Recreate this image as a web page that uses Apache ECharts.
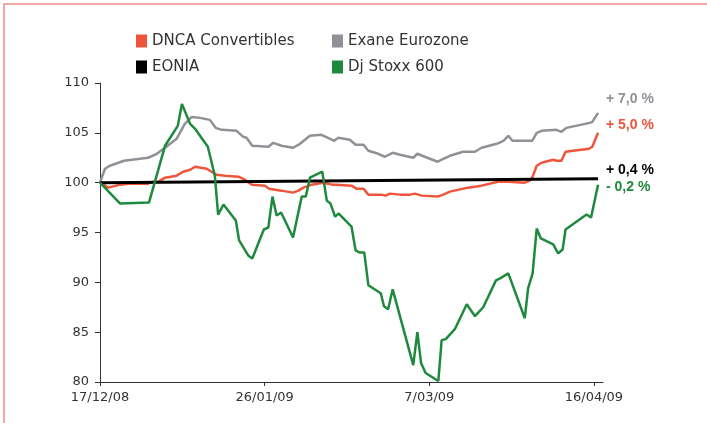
<!DOCTYPE html>
<html>
<head>
<meta charset="utf-8">
<script src="https://cdn.jsdelivr.net/npm/echarts@6/dist/echarts.min.js"></script>
<style>
html,body{margin:0;padding:0;background:#fff}
#chart{width:707px;height:423px}
</style>
</head>
<body>
<div id="chart"></div>
<script>
// days counted from 17/12/08
var tickDays = [0, 40, 80, 120];
var dateLabels = ['17/12/08', '26/01/09', '7/03/09', '16/04/09'];

var dncaDays = [0, 2, 4.9, 6.9, 11.7, 13, 14.2, 15.8, 18.6, 20.2, 21.9, 23.1, 25.9, 26.7, 28.3, 30.4, 33.6, 35.2, 36.9, 40.1, 41, 44.1, 46.9, 48.2, 49.4, 51.4, 54.2, 55.4, 56.3, 57.5, 61.1, 62.3, 64, 65.2, 68.4, 69.4, 70.4, 72.9, 75.3, 76.5, 78.1, 82, 83.4, 85, 89.4, 92.7, 96.7, 99.2, 103.2, 104.4, 105, 106.1, 107.3, 110.1, 110.9, 112.1, 113.1, 118.8, 119.6, 121];
var dncaVals = [100, 99.5, 99.8, 99.9, 99.9, 100.1, 100.1, 100.5, 100.7, 101.1, 101.3, 101.6, 101.4, 101.2, 100.8, 100.7, 100.6, 100.3, 99.8, 99.7, 99.4, 99.2, 99.0, 99.2, 99.5, 99.8, 100.0, 99.9, 99.8, 99.8, 99.7, 99.4, 99.4, 98.8, 98.8, 98.7, 98.9, 98.8, 98.8, 98.9, 98.7, 98.6, 98.8, 99.1, 99.5, 99.7, 100.1, 100.1, 100.0, 100.2, 100.5, 101.7, 102.0, 102.3, 102.2, 102.2, 103.1, 103.4, 103.6, 105.0];

var exaneDays = [0, 1.2, 2.4, 4.5, 5.8, 11.7, 13.8, 15.8, 18.6, 20.6, 22.3, 24.3, 26.7, 28.1, 29.6, 33.2, 34.8, 35.6, 37, 40.9, 42.1, 44.1, 46.9, 48.6, 51, 53.8, 55.4, 56.9, 57.9, 60.7, 62.1, 64, 65.2, 67.6, 69.2, 71.1, 72.9, 76.1, 77.1, 78.9, 82, 83, 85, 88.2, 91.1, 92.7, 96.4, 98, 99.2, 100.2, 103.2, 105, 106.1, 107.3, 110.9, 112.1, 113.3, 119, 119.6, 121];
var exaneVals = [100, 101.4, 101.7, 102.0, 102.2, 102.5, 102.9, 103.5, 104.4, 105.9, 106.6, 106.5, 106.3, 105.5, 105.3, 105.2, 104.6, 104.5, 103.7, 103.6, 104.0, 103.7, 103.5, 103.9, 104.7, 104.8, 104.5, 104.2, 104.5, 104.3, 103.8, 103.8, 103.2, 102.9, 102.6, 103.0, 102.8, 102.5, 102.9, 102.6, 102.1, 102.3, 102.7, 103.1, 103.1, 103.5, 103.9, 104.2, 104.7, 104.2, 104.2, 104.2, 105.0, 105.2, 105.3, 105.1, 105.5, 106.0, 106.1, 107.0];

var eoniaDays = [0, 121];
var eoniaVals = [100, 100.4];

var stoxxDays = [0, 4.9, 11.9, 15.8, 18.9, 19.9, 21.9, 23.1, 26.2, 27.9, 28.7, 30, 33, 33.8, 36, 37, 39.8, 40.9, 41.9, 42.9, 44, 46.9, 49, 50, 51, 54, 55.1, 56, 57.1, 58, 61.1, 62.1, 63, 64.2, 65.2, 68.2, 69, 70, 71.1, 76.1, 77.1, 78, 79.1, 82.2, 83, 84, 86.2, 89.1, 91.1, 93.1, 96.2, 97.2, 99.2, 103.2, 104, 105.1, 106.1, 107.1, 110.1, 111.3, 112.4, 113.1, 118.2, 119.3, 121];
var stoxxVals = [100, 97.9, 98.0, 103.7, 105.7, 107.9, 105.9, 105.4, 103.6, 100.7, 96.8, 97.8, 96.2, 94.2, 92.7, 92.4, 95.3, 95.5, 98.6, 96.7, 97.0, 94.5, 98.6, 98.6, 100.5, 101.1, 98.2, 97.9, 96.6, 96.9, 95.6, 93.2, 93.0, 93.0, 89.7, 88.9, 87.6, 87.3, 89.3, 81.7, 85.0, 81.9, 80.9, 80.1, 84.2, 84.3, 85.3, 87.8, 86.6, 87.5, 90.2, 90.4, 90.9, 86.4, 89.4, 90.9, 95.4, 94.4, 93.8, 92.9, 93.3, 95.3, 96.8, 96.5, 99.8];

var endLabels = ['+ 7,0 %', '+ 5,0 %', '+ 0,4 %', '- 0,2 %'];

var colRed = '#ef553c', colGrey = '#909196', colBlack = '#000000', colGreen = '#1f8a3d';

function pairs(d, v) {
	var out = [];
	for (var i = 0; i < d.length; i++) out.push([d[i], v[i]]);
	return out;
}

var chart = echarts.init(document.getElementById('chart'));

var lineSeries = function(name, color, w, days, vals) {
	return {
		name: name,
		type: 'line',
		symbol: 'none',
		color: color,
		lineStyle: {color: color, width: w},
		data: pairs(days, vals)
	};
};

var legendText = {fontFamily: 'DejaVu Sans', fontSize: 15, color: '#333', lineHeight: 16};
var endFont = 'bold 14px "Liberation Sans"';

var option = {
	animation: false,
	backgroundColor: '#fff',
	grid: {left: 100, top: 83, right: 104, bottom: 41},
	legend: [
		{
			orient: 'vertical', left: 131, top: 28, itemGap: 10,
			icon: 'rect', itemWidth: 11, itemHeight: 13,
			textStyle: legendText,
			data: ['DNCA Convertibles', 'EONIA']
		},
		{
			orient: 'vertical', left: 327, top: 28, itemGap: 10,
			icon: 'rect', itemWidth: 11, itemHeight: 13,
			textStyle: legendText,
			data: ['Exane Eurozone', 'Dj Stoxx 600']
		}
	],
	xAxis: {
		type: 'value', min: 0, max: 122.2, interval: 40,
		axisLine: {lineStyle: {color: '#333', width: 1}},
		axisTick: {customValues: tickDays, length: 4, lineStyle: {color: '#333'}},
		axisLabel: {
			customValues: tickDays, margin: 9,
			fontFamily: 'DejaVu Sans', fontSize: 13, color: '#333',
			formatter: function(v) { return dateLabels[tickDays.indexOf(v)]; }
		},
		splitLine: {show: false}
	},
	yAxis: {
		type: 'value', min: 80, max: 110, interval: 5,
		axisLine: {show: true, lineStyle: {color: '#333', width: 1}},
		axisTick: {show: true, length: 5, lineStyle: {color: '#333'}},
		axisLabel: {margin: 11, fontFamily: 'DejaVu Sans', fontSize: 13, color: '#333'},
		splitLine: {show: false}
	},
	graphic: [
		{type: 'rect', shape: {x: 4, y: 4, width: 740, height: 460}, style: {fill: 'none', stroke: '#ef8f86', lineWidth: 1.5}, silent: true},
		{type: 'text', left: 606, top: 92, style: {text: endLabels[0], fill: colGrey, font: endFont}},
		{type: 'text', left: 606, top: 118, style: {text: endLabels[1], fill: colRed, font: endFont}},
		{type: 'text', left: 606, top: 163, style: {text: endLabels[2], fill: colBlack, font: endFont}},
		{type: 'text', left: 606, top: 180, style: {text: endLabels[3], fill: colGreen, font: endFont}}
	],
	series: [
		lineSeries('Exane Eurozone', colGrey, 2.5, exaneDays, exaneVals),
		lineSeries('DNCA Convertibles', colRed, 2.5, dncaDays, dncaVals),
		lineSeries('EONIA', colBlack, 3, eoniaDays, eoniaVals),
		lineSeries('Dj Stoxx 600', colGreen, 2.5, stoxxDays, stoxxVals)
	]
};

chart.setOption(option);
</script>
</body>
</html>
